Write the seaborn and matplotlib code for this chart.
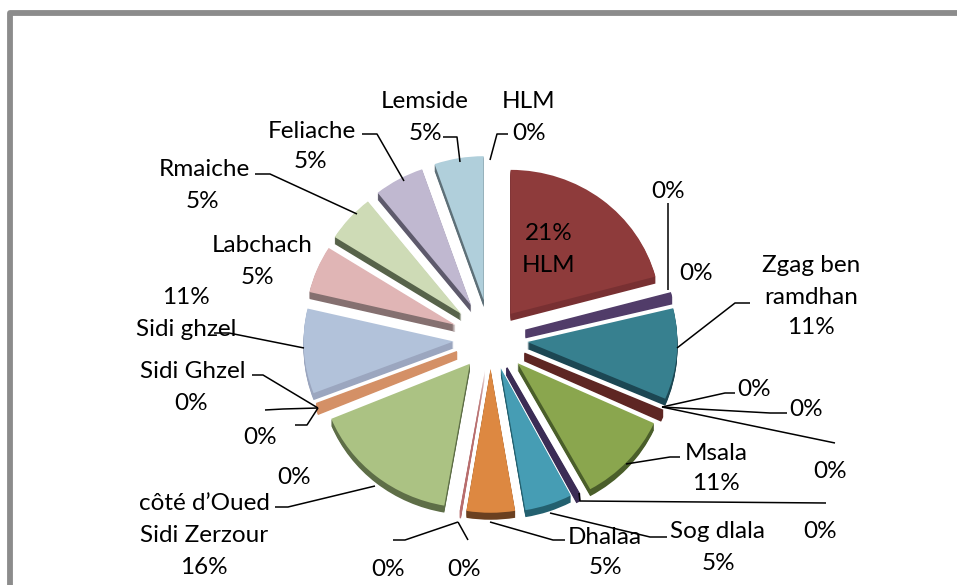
import matplotlib
matplotlib.use("Agg")
import matplotlib.pyplot as plt
import seaborn as sns

# ---------- data ----------
categories = ["HLM", "", "Zgag ben ramdhan", "", "Msala", "", "Sog dlala", "Dhalaa", "",
              "côté d’Oued Sidi Zerzour", "Sidi Ghzel", "Sidi ghzel", "Labchach", "Rmaiche",
              "Feliache", "Lemside"]
shares = [20.8, 0.4, 10.2, 0.4, 10.1, 0.3, 5.1, 5.2, 0.15, 16.0, 0.4, 9.5, 5.3, 5.3, 5.4, 5.3]

# ---------- style ----------
top_hex = ["#8E3B3B", "#513C69", "#37808F", "#5E2623", "#8AA64E", "#3B2C55", "#469DB4", "#DD8841",
           "#B86E6E", "#ABC283", "#D49066", "#B2C2DA", "#E0B5B5", "#CEDBB6", "#C0B8D0", "#B0CFDB"]
side_hex = ["#783032", "#513C69", "#1C4753", "#5E2623", "#4A5E2A", "#3B2C55", "#23606F", "#6B4020",
            "#B86E6E", "#5E6E47", "#D49066", "#9BA6BF", "#857070", "#57634A", "#5E5A6C", "#5E7078"]
offsets_px = [33, 36, 37, 37, 37, 34, 32, 31, 32, 33, 36, 37, 38, 39, 40, 41]

H = 585
W = 957
CX, CY, R = 490.5, 339.0, 150.0
DEPTH = 7
SQUASH = 0.96

sns.set_theme(style="white")
plt.rcParams["font.family"] = ["Lato", "DejaVu Sans"]
top_colors = sns.color_palette(top_hex)
side_colors = sns.color_palette(side_hex)

fig = plt.figure(figsize=(W / 100, H / 100), dpi=100, facecolor="white")
ax_pie = fig.add_axes([0, 0, 1, 1])
ax = fig.add_axes([0, 0, 1, 1])
ax.patch.set_alpha(0)


def Y(py):
    return H - py


def draw_pie(colors, shift):
    wedges, _ = ax_pie.pie(shares, explode=offsets_px, colors=colors,
                           center=(CX, (Y(CY) - shift) / SQUASH), radius=R,
                           startangle=90, counterclock=False, wedgeprops={"linewidth": 0})
    # slices close to zero keep a visible, even width as in the 3-D original
    for wedge, share, col in zip(wedges, shares, colors):
        if 0.2 < share < 0.5:
            wedge.set_edgecolor(col)
            wedge.set_linewidth(1.3)


for k in range(DEPTH, 0, -1):
    draw_pie(side_colors, k)
draw_pie(top_colors, 0)

ax_pie.set_xlim(0, W)
ax_pie.set_ylim(0, H / SQUASH)
ax_pie.set_aspect("auto")
ax_pie.axis("off")

ax.set_xlim(0, W)
ax.set_ylim(0, H)
ax.axis("off")

# frame of the pasted chart: only top and left sides show
ax.plot([9.7, 9.7, 957], [Y(585), Y(13), Y(13)], color="#8C8C8C", lw=4.2,
        solid_joinstyle="round", solid_capstyle="butt", clip_on=False)

# leader lines
leaders = [
    [(460, 162), (457, 137), (443, 137)],
    [(490, 160), (497, 134), (508, 134)],
    [(404, 181), (377, 134), (362, 134)],
    [(357, 214), (270, 174), (255, 174)],
    [(304, 348), (229, 333), (214, 333)],
    [(318, 408), (263, 375), (252, 375)],
    [(318, 408), (283, 409), (265, 410)],
    [(318, 408), (307, 425), (295, 425)],
    [(375, 486), (288, 507), (275, 507)],
    [(458, 522), (405, 540), (393, 540)],
    [(458, 522), (468, 540)],
    [(490, 522), (553, 540), (565, 540)],
    [(550, 513), (650, 537), (667, 537)],
    [(579, 493), (580, 501), (826, 503)],
    [(626, 464), (670, 457), (680, 457)],
    [(662, 407), (725, 393), (735, 393)],
    [(662, 407), (770, 413), (787, 413)],
    [(662, 407), (835, 443)],
    [(677, 348), (735, 303), (750, 303)],
    [(668, 290), (668, 203)],
]
for pts in leaders:
    ax.plot([p[0] for p in pts], [Y(p[1]) for p in pts], color="black", lw=1.1,
            solid_capstyle="butt", clip_on=False)

# labels
labels = [
    ("Lemside", 425, 100), ("5%", 425, 131),
    ("HLM", 529, 100), ("0%", 529, 131),
    ("Feliache", 312, 129), ("5%", 310, 160),
    ("Rmaiche", 204, 168), ("5%", 202, 199),
    ("Labchach", 262, 244), ("5%", 257, 275),
    ("11%", 186, 296), ("Sidi ghzel", 186, 327),
    ("Sidi Ghzel", 193, 370), ("0%", 191, 401),
    ("0%", 260, 435), ("0%", 294, 475),
    ("côté d’Oued", 204, 502), ("Sidi Zerzour", 204, 534), ("16%", 204, 566),
    ("0%", 388, 567), ("0%", 464, 567),
    ("Dhalaa", 605, 535), ("5%", 605, 566),
    ("Sog dlala", 718, 530), ("5%", 718, 561),
    ("0%", 820, 529),
    ("Msala", 716, 451), ("11%", 716, 482),
    ("0%", 830, 469), ("0%", 806, 407), ("0%", 754, 388),
    ("Zgag ben", 811, 264), ("ramdhan", 811, 295), ("11%", 811, 326),
    ("0%", 696, 272), ("0%", 668, 190),
    ("21%", 549, 231), ("HLM", 549, 263),
]
for txt, x, y in labels:
    ax.text(x, Y(y + 2), txt, ha="center", va="center", fontsize=17.5, color="black", clip_on=False)

fig.savefig("out.png", dpi=100, facecolor="white")
